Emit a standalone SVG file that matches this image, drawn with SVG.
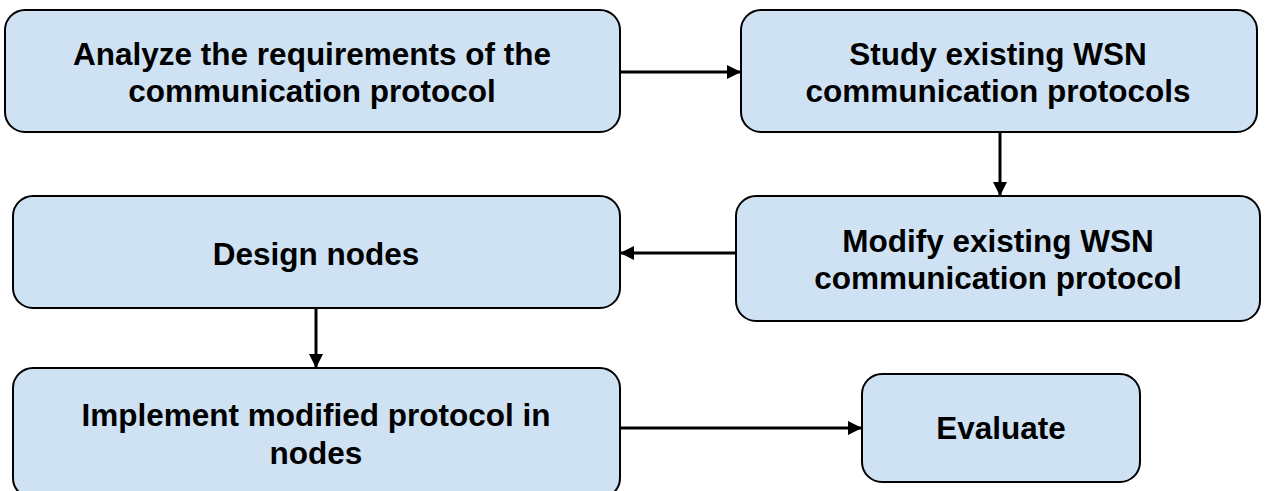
<svg xmlns="http://www.w3.org/2000/svg" width="1266" height="491" viewBox="0 0 1266 491">
  <style>
    .box { fill: #cfe2f3; stroke: #000; stroke-width: 2; }
    .label { font-family: "Liberation Sans", Arial, sans-serif; font-weight: bold; font-size: 31.5px; fill: #000; text-anchor: middle; }
    .edge { stroke: #000; stroke-width: 3; fill: none; marker-end: url(#arrow); }
  </style>
  <defs>
    <marker id="arrow" markerWidth="14" markerHeight="14" refX="14" refY="7" orient="auto" markerUnits="userSpaceOnUse">
      <path d="M0,0 L14,7 L0,14 Z" fill="#000"/>
    </marker>
  </defs>

  <rect width="1266" height="491" fill="#fff"/>

  <g id="connectors">
    <line class="edge" x1="620" y1="72" x2="741" y2="72"/>
    <line class="edge" x1="1000" y1="133" x2="1000" y2="196"/>
    <line class="edge" x1="736" y1="253" x2="620" y2="253"/>
    <line class="edge" x1="316" y1="308" x2="316" y2="368"/>
    <line class="edge" x1="620" y1="428" x2="862" y2="428"/>
  </g>

  <g id="analyze">
    <rect class="box" x="5" y="10" width="615" height="122" rx="20"/>
    <text class="label" x="312" y="65">Analyze the requirements of the</text>
    <text class="label" x="312" y="102">communication protocol</text>
  </g>

  <g id="study">
    <rect class="box" x="741" y="10" width="516" height="122" rx="20"/>
    <text class="label" x="998" y="65">Study existing WSN</text>
    <text class="label" x="998" y="102">communication protocols</text>
  </g>

  <g id="design">
    <rect class="box" x="13" y="196" width="607" height="112" rx="20"/>
    <text class="label" x="316" y="265">Design nodes</text>
  </g>

  <g id="modify">
    <rect class="box" x="736" y="196" width="524" height="125" rx="20"/>
    <text class="label" x="998" y="252">Modify existing WSN</text>
    <text class="label" x="998" y="289">communication protocol</text>
  </g>

  <g id="implement">
    <rect class="box" x="13" y="368" width="607" height="130" rx="20"/>
    <text class="label" x="316" y="426">Implement modified protocol in</text>
    <text class="label" x="316" y="464">nodes</text>
  </g>

  <g id="evaluate">
    <rect class="box" x="862" y="374" width="278" height="108" rx="20"/>
    <text class="label" x="1001" y="439">Evaluate</text>
  </g>
</svg>
